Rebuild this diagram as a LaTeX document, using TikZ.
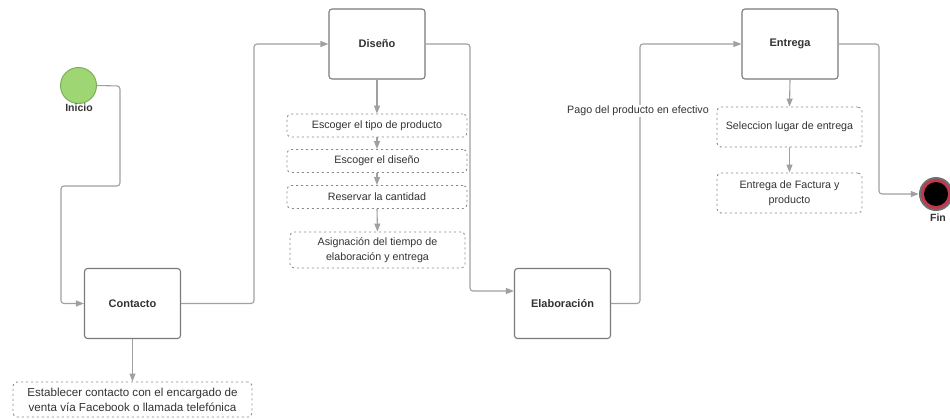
\documentclass[tikz,border=0pt]{standalone}
\usepackage{fontspec}
\setmainfont{Liberation Sans}
\usetikzlibrary{arrows.meta}
\definecolor{linegray}{HTML}{A0A0A0}
\definecolor{boxgray}{HTML}{7A7A7A}
\definecolor{txtgray}{HTML}{333333}
\definecolor{notegray}{HTML}{8A8A8A}
\definecolor{startgreen}{HTML}{9DD672}
\definecolor{startedge}{HTML}{7FAE5C}
\definecolor{endred}{HTML}{C0394F}
\definecolor{endring}{HTML}{707070}
\tikzset{
  stage/.style={draw=boxgray, line width=1.1pt, rounded corners=3pt, fill=white,
    minimum width=96pt, minimum height=70pt, text=txtgray,
    font=\fontsize{11}{12}\selectfont\bfseries},
  note/.style={draw=notegray, line width=0.9pt, dash pattern=on 2pt off 3pt,
    rounded corners=4pt, fill=white, text=txtgray, align=center, inner sep=1pt,
    font=\fontsize{10.7}{13}\selectfont},
  flow/.style={draw=linegray, line width=1.1pt, rounded corners=3pt,
    -{Triangle[length=8pt,width=6pt]}},
  tag/.style={text=txtgray, font=\fontsize{10.5}{12}\selectfont\bfseries}
}
\begin{document}
\begin{tikzpicture}[x=1pt,y=-1pt]
\useasboundingbox (0,0) rectangle (950,418);
\fill[white] (0,0) rectangle (950,418);

% start state
\node[circle, fill=startgreen, draw=startedge, line width=1pt, minimum size=36pt, inner sep=0pt] (ini) at (78.5,85.5) {};
\node[tag] (inilbl) at (79,108) {Inicio};

% end state
\node[circle, fill=endring, minimum size=34pt, inner sep=0pt] (fin) at (936,194) {};
\fill[endred] (fin.center) circle (15pt);
\fill[black] (fin.center) circle (12pt);
\node[tag] (finlbl) at (938,218) {Fin};

% stages
\node[stage] (con) at (132.5,303.5) {Contacto};
\node[stage] (dis) at (377,44) {Diseño};
\node[stage] (ela) at (562.5,303.5) {Elaboración};
\node[stage] (ent) at (790,44) {Entrega};

% activity notes
\node[note, minimum width=239pt, minimum height=35pt, font=\fontsize{11.6}{15}\selectfont] (n1) at (132.5,399.5)
  {Establecer contacto con el encargado de\\venta vía Facebook o llamada telefónica};
\node[note, minimum width=180pt, minimum height=23pt] (d1) at (377,125.5) {Escoger el tipo de producto};
\node[note, minimum width=180pt, minimum height=23pt] (d2) at (377,161) {Escoger el diseño};
\node[note, minimum width=180pt, minimum height=23pt] (d3) at (377,197) {Reservar la cantidad};
\node[note, minimum width=175pt, minimum height=36pt, font=\fontsize{10.7}{15}\selectfont] (d4) at (377.5,250)
  {Asignación del tiempo de\\elaboración y entrega};
\node[note, minimum width=145pt, minimum height=40pt] (e1) at (789.5,127) {Seleccion lugar de entrega};
\node[note, minimum width=145pt, minimum height=40pt, font=\fontsize{10.7}{15}\selectfont] (e2) at (789.5,193)
  {Entrega de Factura y\\producto};

% main flow
\draw[flow] (ini.east) -- (120,86) -- (120,186) -- (61,186) -- (61,303.5) -- (con.west);
\draw[flow] (con.east) -- (254,303.5) -- (254,44) -- (dis.west);
\draw[flow] (dis.east) -- (470,44) -- (470,291) -- (ela.west |- 0,291);
\draw[flow] (ela.east) -- (640,303.5) -- (640,44) -- (ent.west);
\draw[flow] (ent.east) -- (879,44) -- (879,194) -- (fin.west);

% payment label on the rising line
\node[fill=white, text=txtgray, font=\fontsize{10.7}{12}\selectfont, inner sep=1pt] (pago) at (638,111) {Pago del producto en efectivo};

% activity arrows
\draw[flow] (con.south) -- (n1.north);
\draw[flow] (dis.south) -- (d1.north);
\draw[flow] (d1.south) -- (d2.north);
\draw[flow] (d2.south) -- (d3.north);
\draw[flow] (d3.south) -- (d4.north);
\draw[flow] (ent.south) -- (e1.north);
\draw[flow] (e1.south) -- (e2.north);
\end{tikzpicture}
\end{document}
